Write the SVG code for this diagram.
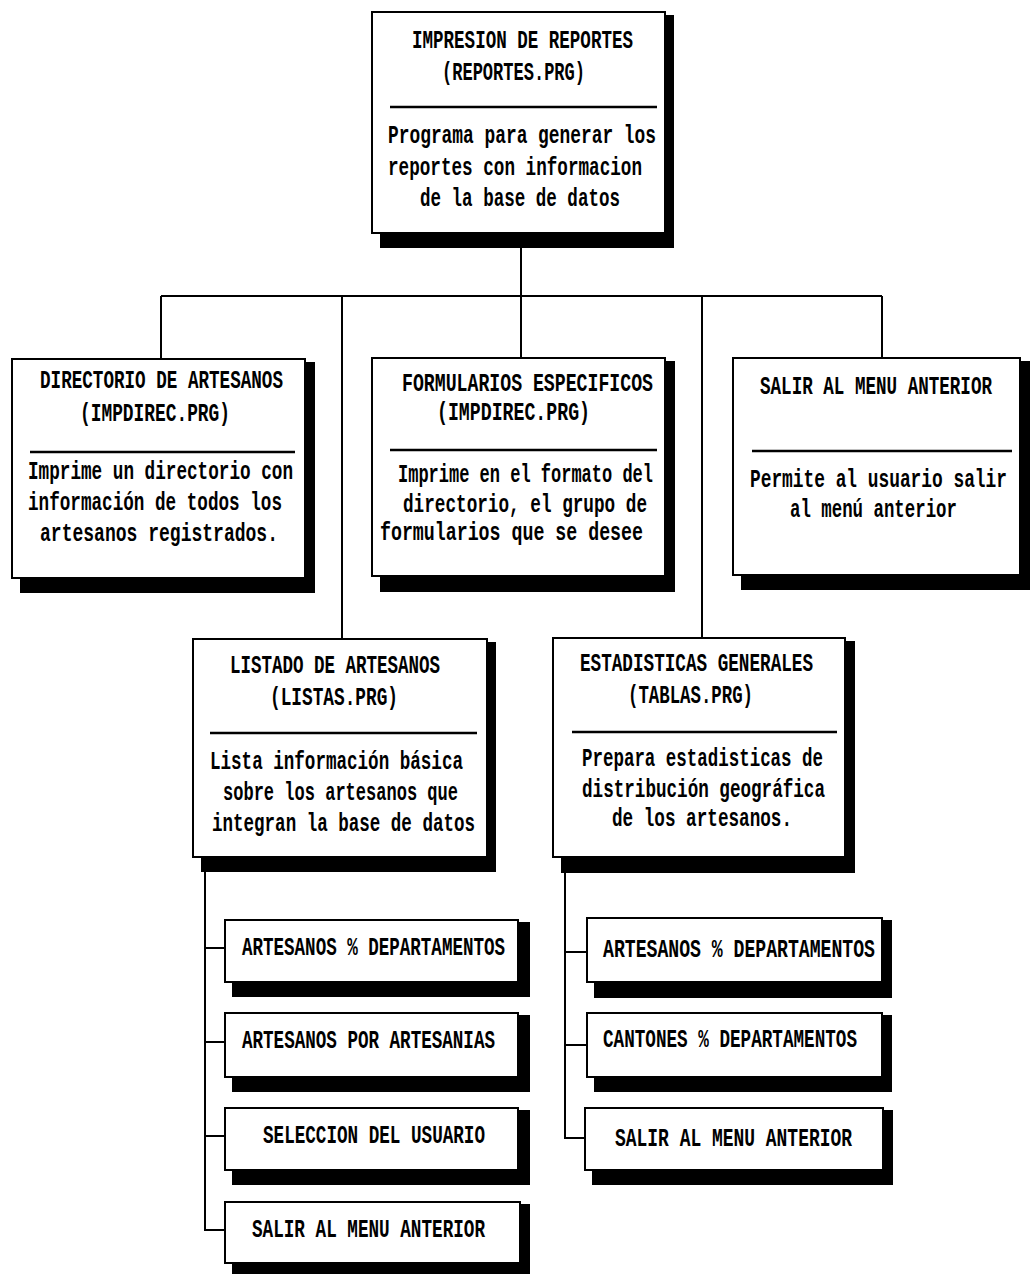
<svg xmlns="http://www.w3.org/2000/svg" width="1030" height="1274" viewBox="0 0 1030 1274">
<style>
.bg{fill:#fff}
.sh{fill:#000}
.bx{fill:#fff;stroke:#000;stroke-width:2}
.dv{stroke:#000;stroke-width:2.5}
.cn{fill:none;stroke:#000;stroke-width:2}
text{font-family:"Liberation Mono","DejaVu Sans Mono",monospace;font-size:25px;font-weight:bold;fill:#000}
text.st{font-size:17.5px}
</style>
<rect class="bg" x="0" y="0" width="1030" height="1274"/>
<g id="connectors">
<path class="cn" d="M521 248V296M161 296H882M161 296V359M342 296V639M521 296V358M702 296V638M882 296V358"/>
<path class="cn" d="M205 872V1230H225M205 948H225M205 1042H225M205 1136H225"/>
<path class="cn" d="M565 873V1138H585M565 952H587M565 1045H587"/>
</g>
<g id="n-reportes">
<rect class="sh" x="380" y="15" width="294" height="233"/>
<rect class="bx" x="372" y="12" width="293" height="221"/>
<text x="412" y="48" textLength="221" lengthAdjust="spacingAndGlyphs">IMPRESION DE REPORTES</text>
<text x="442" y="80" textLength="143" lengthAdjust="spacingAndGlyphs">(REPORTES.PRG)</text>
<line class="dv" x1="390" y1="107" x2="657" y2="107"/>
<text x="388" y="143" textLength="268" lengthAdjust="spacingAndGlyphs">Programa para generar los</text>
<text x="388" y="175" textLength="254" lengthAdjust="spacingAndGlyphs">reportes con informacion</text>
<text x="420" y="206" textLength="200" lengthAdjust="spacingAndGlyphs">de la base de datos</text>
</g>
<g id="n-directorio">
<rect class="sh" x="20" y="362" width="295" height="231"/>
<rect class="bx" x="12" y="359" width="293" height="219"/>
<text x="40" y="388" textLength="243" lengthAdjust="spacingAndGlyphs">DIRECTORIO DE ARTESANOS</text>
<text x="80" y="421" textLength="150" lengthAdjust="spacingAndGlyphs">(IMPDIREC.PRG)</text>
<line class="dv" x1="30" y1="452" x2="295" y2="452"/>
<text x="28" y="479" textLength="265" lengthAdjust="spacingAndGlyphs">Imprime un directorio con</text>
<text x="28" y="510" textLength="254" lengthAdjust="spacingAndGlyphs">información de todos los</text>
<text x="40" y="541" textLength="238" lengthAdjust="spacingAndGlyphs">artesanos registrados.</text>
</g>
<g id="n-formularios">
<rect class="sh" x="380" y="361" width="295" height="231"/>
<rect class="bx" x="372" y="358" width="293" height="218"/>
<text x="402" y="391" textLength="251" lengthAdjust="spacingAndGlyphs">FORMULARIOS ESPECIFICOS</text>
<text x="437" y="420" textLength="153" lengthAdjust="spacingAndGlyphs">(IMPDIREC.PRG)</text>
<line class="dv" x1="390" y1="450" x2="657" y2="450"/>
<text x="398" y="482" textLength="255" lengthAdjust="spacingAndGlyphs">Imprime en el formato del</text>
<text x="403" y="512" textLength="244" lengthAdjust="spacingAndGlyphs">directorio, el grupo de</text>
<text x="380" y="540" textLength="263" lengthAdjust="spacingAndGlyphs">formularios que se desee</text>
</g>
<g id="n-salir">
<rect class="sh" x="741" y="361" width="289" height="229"/>
<rect class="bx" x="733" y="358" width="287" height="217"/>
<text class="st" transform="translate(760 394) scale(1 1.43)" x="0" y="0" textLength="232" lengthAdjust="spacingAndGlyphs">SALIR AL MENU ANTERIOR</text>
<line class="dv" x1="752" y1="451" x2="1012" y2="451"/>
<text class="st" transform="translate(750 487) scale(1 1.43)" x="0" y="0" textLength="257" lengthAdjust="spacingAndGlyphs">Permite al usuario salir</text>
<text class="st" transform="translate(790 517) scale(1 1.43)" x="0" y="0" textLength="167" lengthAdjust="spacingAndGlyphs">al menú anterior</text>
</g>
<g id="n-listado">
<rect class="sh" x="201" y="642" width="295" height="230"/>
<rect class="bx" x="193" y="639" width="294" height="218"/>
<text x="230" y="673" textLength="210" lengthAdjust="spacingAndGlyphs">LISTADO DE ARTESANOS</text>
<text x="270" y="705" textLength="128" lengthAdjust="spacingAndGlyphs">(LISTAS.PRG)</text>
<line class="dv" x1="210" y1="733" x2="477" y2="733"/>
<text x="210" y="769" textLength="253" lengthAdjust="spacingAndGlyphs">Lista información básica</text>
<text x="223" y="800" textLength="235" lengthAdjust="spacingAndGlyphs">sobre los artesanos que</text>
<text x="212" y="831" textLength="263" lengthAdjust="spacingAndGlyphs">integran la base de datos</text>
</g>
<g id="n-estadisticas">
<rect class="sh" x="561" y="641" width="294" height="232"/>
<rect class="bx" x="553" y="638" width="292" height="219"/>
<text x="580" y="671" textLength="233" lengthAdjust="spacingAndGlyphs">ESTADISTICAS GENERALES</text>
<text x="628" y="703" textLength="125" lengthAdjust="spacingAndGlyphs">(TABLAS.PRG)</text>
<line class="dv" x1="572" y1="732" x2="837" y2="732"/>
<text x="582" y="766" textLength="241" lengthAdjust="spacingAndGlyphs">Prepara estadisticas de</text>
<text x="582" y="797" textLength="243" lengthAdjust="spacingAndGlyphs">distribución geográfica</text>
<text x="612" y="826" textLength="180" lengthAdjust="spacingAndGlyphs">de los artesanos.</text>
</g>
<g id="n-l1">
<rect class="sh" x="232" y="922" width="298" height="75"/>
<rect class="bx" x="225" y="920" width="293" height="62"/>
<text x="242" y="955" textLength="263" lengthAdjust="spacingAndGlyphs">ARTESANOS % DEPARTAMENTOS</text>
</g>
<g id="n-l2">
<rect class="sh" x="232" y="1015" width="298" height="77"/>
<rect class="bx" x="225" y="1013" width="293" height="64"/>
<text x="242" y="1048" textLength="253" lengthAdjust="spacingAndGlyphs">ARTESANOS POR ARTESANIAS</text>
</g>
<g id="n-l3">
<rect class="sh" x="232" y="1110" width="298" height="75"/>
<rect class="bx" x="225" y="1108" width="293" height="62"/>
<text x="263" y="1143" textLength="222" lengthAdjust="spacingAndGlyphs">SELECCION DEL USUARIO</text>
</g>
<g id="n-l4">
<rect class="sh" x="232" y="1204" width="298" height="70"/>
<rect class="bx" x="225" y="1202" width="295" height="61"/>
<text x="252" y="1237" textLength="233" lengthAdjust="spacingAndGlyphs">SALIR AL MENU ANTERIOR</text>
</g>
<g id="n-r1">
<rect class="sh" x="594" y="920" width="298" height="78"/>
<rect class="bx" x="587" y="918" width="295" height="64"/>
<text x="603" y="957" textLength="272" lengthAdjust="spacingAndGlyphs">ARTESANOS % DEPARTAMENTOS</text>
</g>
<g id="n-r2">
<rect class="sh" x="594" y="1015" width="298" height="77"/>
<rect class="bx" x="587" y="1013" width="295" height="64"/>
<text x="603" y="1047" textLength="254" lengthAdjust="spacingAndGlyphs">CANTONES % DEPARTAMENTOS</text>
</g>
<g id="n-r3">
<rect class="sh" x="592" y="1110" width="301" height="75"/>
<rect class="bx" x="585" y="1108" width="298" height="62"/>
<text x="615" y="1146" textLength="237" lengthAdjust="spacingAndGlyphs">SALIR AL MENU ANTERIOR</text>
</g>
</svg>
